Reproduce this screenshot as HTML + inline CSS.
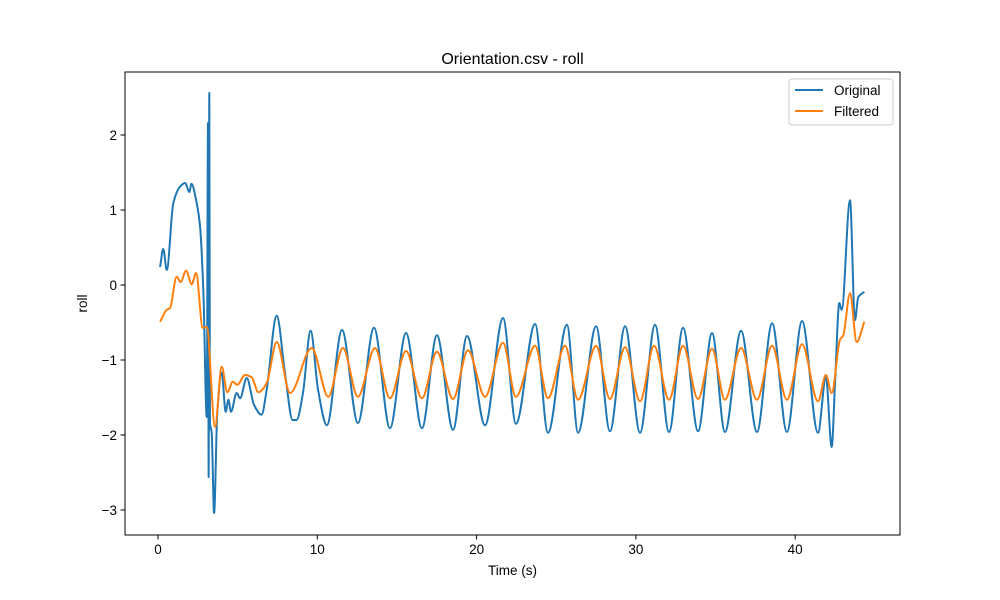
<!DOCTYPE html>
<html><head><meta charset="utf-8"><style>
body{margin:0;background:#fff;}
svg{display:block;font-family:"Liberation Sans","DejaVu Sans",sans-serif;}
</style></head><body>
<svg id="chart" width="1000" height="600">
<rect width="1000" height="600" fill="#fff"/>
<text x="512.5" y="64" font-size="16" text-anchor="middle">Orientation.csv - roll</text>
<g id="plot"></g>
<rect x="125" y="72" width="775" height="463" fill="none" stroke="#000" stroke-width="1"/>
<g id="xt"></g><g id="yt"></g>
<text x="512.5" y="575" font-size="13.5" text-anchor="middle">Time (s)</text>
<text transform="translate(87,303.5) rotate(-90)" font-size="13.5" text-anchor="middle">roll</text>
<g>
<rect x="789" y="79" width="104" height="46" rx="3" fill="#fff" fill-opacity="0.8" stroke="#ccc"/>
<g>
<line x1="795" y1="90" x2="823" y2="90" stroke="#1f77b4" stroke-width="2"/>
<text x="834" y="95" font-size="13.5">Original</text></g>
<g>
<line x1="795" y1="111" x2="823" y2="111" stroke="#ff7f0e" stroke-width="2"/>
<text x="834" y="116" font-size="13.5">Filtered</text></g>
</g>
</svg>
<script>
const xTicks=[0,10,20,30,40];
const yTicks=[2,1,0,-1,-2,-3];
const origT=[0.13,0.33,0.55,0.96,1.38,1.7,1.97,2.1,2.43,2.64,2.85,3.06,3.14,3.18,3.22,3.26,3.37,3.52,3.72,4.0,4.25,4.42,4.58,4.94,5.15,5.57,6.03,6.5,6.82,7.45,7.97,8.45,8.7,9.1,9.58,10.05,10.6,
11.55,12.55,13.56,14.56,15.57,16.57,17.51,18.52,19.40,20.53,21.66,22.47,23.67,24.48,25.67,26.37,27.50,28.37,29.32,30.26,31.20,32.08,32.96,33.90,34.78,35.59,36.60,37.60,38.55,39.48,40.43,41.43,
41.93,42.29,42.5,42.77,42.92,43.44,43.75,43.96,44.34];
const origV=[0.24,0.48,0.2,1.09,1.31,1.36,1.24,1.35,1.09,0.78,-0.1,-1.76,2.16,-2.56,2.56,-1.84,-1.97,-3.04,-1.71,-1.17,-1.69,-1.53,-1.69,-1.44,-1.51,-1.24,-1.6,-1.73,-1.4,-0.41,-1.17,-1.8,-1.8,-1.44,-0.61,-1.4,-1.87,
-0.60,-1.84,-0.57,-1.91,-0.64,-1.91,-0.67,-1.93,-0.68,-1.87,-0.44,-1.85,-0.52,-1.97,-0.53,-1.97,-0.55,-1.95,-0.55,-1.97,-0.53,-1.96,-0.57,-1.95,-0.64,-1.96,-0.61,-1.96,-0.51,-1.96,-0.48,-1.97,
-1.23,-2.16,-1.31,-0.24,-0.33,1.13,-0.47,-0.16,-0.09];
const filtT=[0.13,0.55,0.75,1.17,1.42,1.76,2.12,2.39,2.81,3.06,3.58,4.0,4.35,4.69,4.98,5.46,5.88,6.30,6.82,7.45,8.29,9.65,10.69,
11.61,12.55,13.62,14.56,15.57,16.57,17.51,18.52,19.46,20.53,21.66,22.47,23.67,24.48,25.55,26.37,27.50,28.37,29.32,30.26,31.14,32.08,32.96,33.90,34.78,35.59,36.60,37.60,38.55,39.48,40.43,41.43,
41.93,42.29,42.81,43.02,43.44,43.86,44.34];
const filtV=[-0.49,-0.33,-0.31,0.11,0.04,0.19,0.01,0.16,-0.57,-0.56,-1.89,-1.09,-1.43,-1.29,-1.33,-1.2,-1.23,-1.43,-1.31,-0.76,-1.44,-0.84,-1.49,
-0.84,-1.49,-0.84,-1.51,-0.88,-1.51,-0.89,-1.52,-0.87,-1.49,-0.77,-1.49,-0.81,-1.51,-0.81,-1.53,-0.81,-1.52,-0.83,-1.55,-0.81,-1.53,-0.81,-1.52,-0.85,-1.53,-0.84,-1.53,-0.81,-1.53,-0.79,-1.55,
-1.2,-1.44,-0.73,-0.67,-0.11,-0.76,-0.49];
const X=t=>158+t*15.93;
const Y=v=>285-v*75;
const NS='http://www.w3.org/2000/svg';
function monoPath(ts,vs){
  const n=ts.length,xs=ts.map(X),ys=vs.map(Y);
  const d=[],m=new Array(n);
  for(let i=0;i<n-1;i++)d.push((ys[i+1]-ys[i])/(xs[i+1]-xs[i]));
  m[0]=d[0];m[n-1]=d[n-2];
  for(let i=1;i<n-1;i++){m[i]=(d[i-1]*d[i]<=0)?0:2/(1/d[i-1]+1/d[i]);}
  let p='M'+xs[0].toFixed(2)+','+ys[0].toFixed(2);
  for(let i=0;i<n-1;i++){const h=(xs[i+1]-xs[i])/3;
    p+=' C'+(xs[i]+h).toFixed(2)+','+(ys[i]+m[i]*h).toFixed(2)+' '+(xs[i+1]-h).toFixed(2)+','+(ys[i+1]-m[i+1]*h).toFixed(2)+' '+xs[i+1].toFixed(2)+','+ys[i+1].toFixed(2);}
  return p;
}
const plot=document.getElementById('plot');
const l1=document.createElementNS(NS,'path');
l1.setAttribute('d',monoPath(origT,origV));l1.setAttribute('fill','none');l1.setAttribute('stroke','#1f77b4');l1.setAttribute('stroke-width','2');


plot.appendChild(l1);
const l2=document.createElementNS(NS,'path');
l2.setAttribute('d',monoPath(filtT,filtV));l2.setAttribute('fill','none');l2.setAttribute('stroke','#ff7f0e');l2.setAttribute('stroke-width','2');


plot.appendChild(l2);
const xt=document.getElementById('xt');
xTicks.forEach(t=>{const g=document.createElementNS(NS,'g');


g.innerHTML='<line x1="'+X(t)+'" y1="535" x2="'+X(t)+'" y2="539.5" stroke="#000"/><text x="'+X(t)+'" y="554" font-size="13.5" text-anchor="middle">'+t+'</text>';xt.appendChild(g);});
const yt=document.getElementById('yt');
yTicks.forEach(v=>{const g=document.createElementNS(NS,'g');


g.innerHTML='<line x1="120.5" y1="'+Y(v)+'" x2="125" y2="'+Y(v)+'" stroke="#000"/><text x="117" y="'+(Y(v)+5)+'" font-size="13.5" text-anchor="end">'+(v<0?'\u2212'+(-v):v)+'</text>';yt.appendChild(g);});
</script>
</body></html>
